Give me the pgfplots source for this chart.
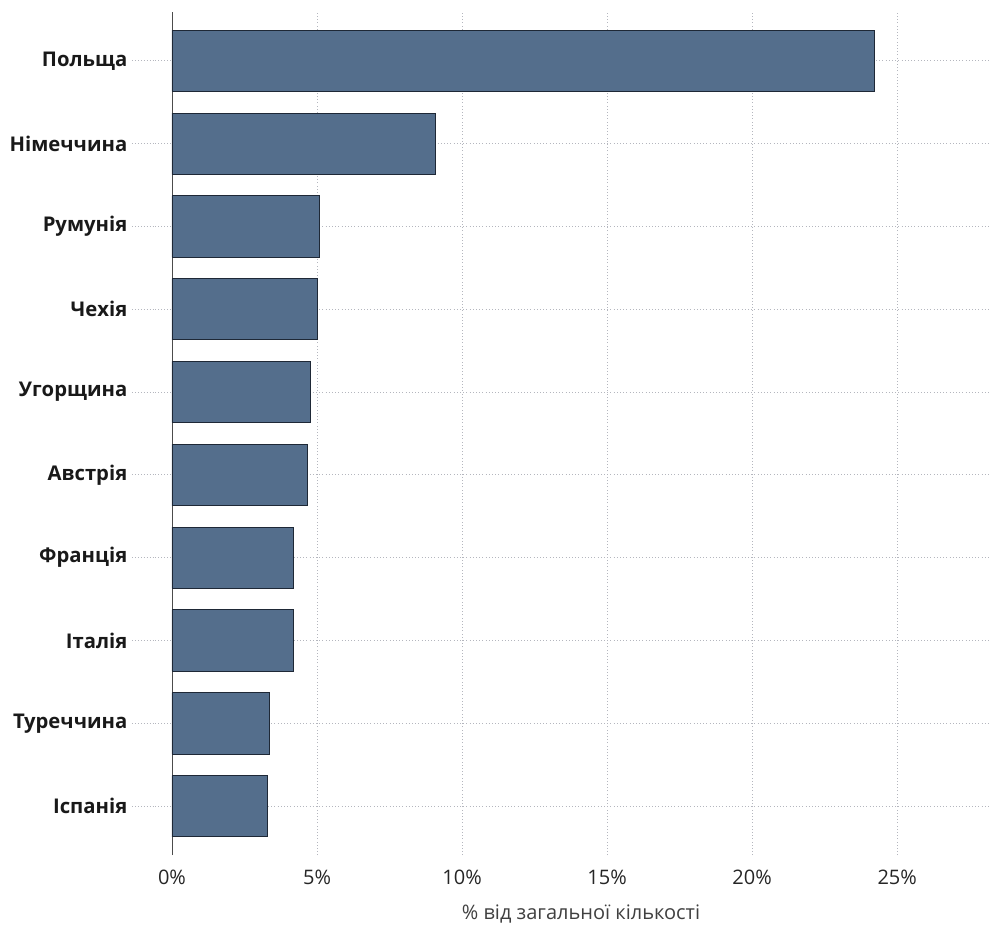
\documentclass[border=0pt]{standalone}
\usepackage{pgfplots}
\pgfplotsset{compat=1.18}
\usepackage{fontspec}
\setmainfont{Open Sans}
\definecolor{barfill}{HTML}{546E8C}
\definecolor{baredge}{HTML}{1E2836}
\definecolor{gridc}{HTML}{B4B6BE}
\begin{document}
\begin{tikzpicture}
\begin{axis}[
  scale only axis,
  width=613.5pt, height=632.25pt,
  xbar,
  bar width=0.74,
  xmin=0, xmax=28.2,
  ymin=-0.59, ymax=9.59,
  axis lines*=left,
  x axis line style={draw=none},
  y axis line style={draw=black!70, line width=0.6pt},
  xtick={0,5,10,15,20,25},
  xticklabels={0\%,5\%,10\%,15\%,20\%,25\%},
  ytick={0,...,9},
  yticklabels={Іспанія,Туреччина,Італія,Франція,Австрія,Угорщина,Чехія,Румунія,Німеччина,Польща},
  xmajorgrids, ymajorgrids,
  grid style={gridc, dotted, line width=0.7pt},
  xtick style={draw=none},
  ytick style={gridc, dotted, line width=0.7pt},
  tick align=outside,
  major tick length=30pt,
  yticklabel style={font=\fontsize{15.2}{17}\selectfont\bfseries, text=black!90, xshift=0pt},
  xticklabel style={font=\fontsize{15}{17}\selectfont, text=black!85, yshift=22pt},
  xlabel={\% від загальної кількості},
  xlabel style={font=\fontsize{15}{17}\selectfont, text=black!75, yshift=-4pt},
  /pgf/number format/assume math mode=true,
  clip=false,
]
\addplot[fill=barfill, draw=baredge, line width=0.7pt] coordinates {
  (3.30,0) (3.37,1) (4.20,2) (4.20,3) (4.68,4) (4.79,5) (5.00,6) (5.10,7) (9.09,8) (24.21,9)
};
\end{axis}
\path (current axis.south west) ++(-129pt,-52.5pt) rectangle ++(743.25pt,693.75pt);
\end{tikzpicture}
\end{document}
